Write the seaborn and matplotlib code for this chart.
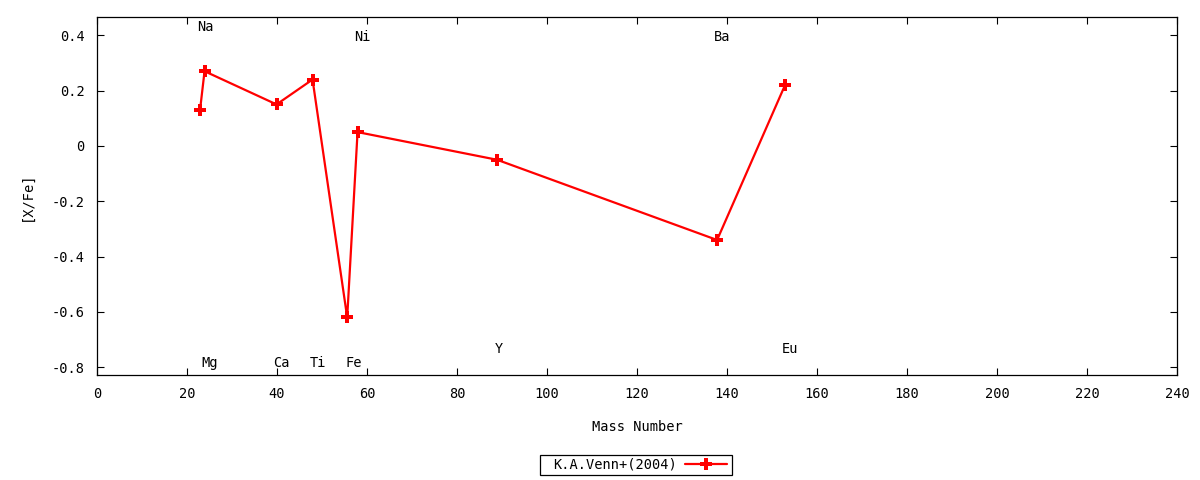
import matplotlib
matplotlib.use("Agg")
import matplotlib.pyplot as plt
import seaborn as sns
import pandas as pd
from matplotlib.patches import Rectangle
from matplotlib.ticker import FuncFormatter, MultipleLocator

elements = ["Na", "Mg", "Ca", "Ti", "Fe", "Ni", "Y", "Ba", "Eu"]
mass_number = [22.9, 23.9, 39.9, 47.9, 55.6, 57.9, 88.9, 137.8, 152.9]
x_fe = [0.13, 0.27, 0.15, 0.24, -0.62, 0.05, -0.05, -0.34, 0.22]
label_x = [24, 25, 41, 49, 57, 59, 89.3, 139, 154]
label_y = [0.43, -0.784, -0.784, -0.784, -0.784, 0.394, -0.734, 0.394, -0.734]
series_name = "K.A.Venn+(2004)"

FS = 9.8

sns.set_theme(style="white")
plt.rcParams["font.family"] = ["DejaVu Sans Mono", "DejaVu Sans"]
plt.rcParams["axes.unicode_minus"] = False
plt.rcParams["text.color"] = "black"
plt.rcParams["axes.labelcolor"] = "black"

df = pd.DataFrame({"Mass Number": mass_number, "[X/Fe]": x_fe, "series": series_name})

fig = plt.figure(figsize=(12, 4.8), dpi=100)
ax = fig.add_axes([97 / 1200, 1 - 375 / 480, (1177 - 97) / 1200, (375 - 17) / 480])

sns.lineplot(data=df, x="Mass Number", y="[X/Fe]", hue="series", palette=["#ff0000"],
             sort=False, estimator=None, marker="P", markersize=9, markeredgewidth=0,
             linewidth=1.6, ax=ax, legend=True)

for name, lx, ly in zip(elements, label_x, label_y):
    ax.text(lx, ly, name, ha="center", va="center", fontsize=FS, color="black")

ax.set_xlim(0, 240)
ax.set_ylim(-0.828, 0.466)
ax.xaxis.set_major_locator(MultipleLocator(20))
ax.yaxis.set_major_locator(MultipleLocator(0.2))
ax.yaxis.set_major_formatter(FuncFormatter(lambda v, p: "%g" % round(v, 6)))
ax.tick_params(axis="x", direction="in", length=5, width=0.8, top=True, bottom=True,
               labelsize=FS, colors="black", pad=9)
ax.tick_params(axis="y", direction="in", length=5, width=0.8, left=True, right=True,
               labelsize=FS, colors="black", pad=9)
for s in ax.spines.values():
    s.set_color("black")
    s.set_linewidth(0.9)
ax.set_xlabel("Mass Number", fontsize=FS, labelpad=13, color="black")
ax.set_ylabel("[X/Fe]", fontsize=FS, labelpad=13, color="black")

handles, labels = ax.get_legend_handles_labels()
ax.legend(handles, labels, loc="center", bbox_to_anchor=(640 / 1200, 1 - 465 / 480),
          bbox_transform=fig.transFigure, markerfirst=False, frameon=False,
          fontsize=FS, handlelength=3.1, borderpad=0, borderaxespad=0,
          handletextpad=0.6, labelcolor="black")
fig.patches.append(Rectangle((540 / 1200, 1 - 475 / 480), 192 / 1200, 20 / 480,
                             transform=fig.transFigure, fill=False,
                             edgecolor="black", linewidth=0.9))

fig.savefig("out.png", dpi=100)
